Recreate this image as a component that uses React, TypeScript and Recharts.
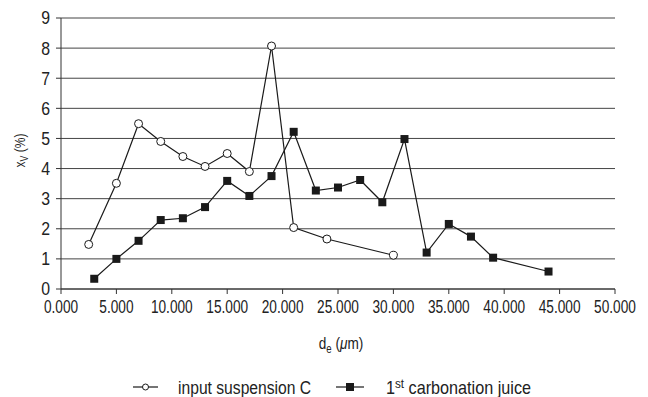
import { LineChart, Line, XAxis, YAxis, CartesianGrid, Legend } from 'recharts';

const suspensionX = [2.5, 5, 7, 9, 11, 13, 15, 17, 19, 21, 24, 30];
const suspensionY = [1.48, 3.51, 5.49, 4.9, 4.4, 4.07, 4.5, 3.9, 8.07, 2.04, 1.66, 1.12];

const juiceX = [3, 5, 7, 9, 11, 13, 15, 17, 19, 21, 23, 25, 27, 29, 31, 33, 35, 37, 39, 44];
const juiceY = [0.34, 1.0, 1.6, 2.29, 2.35, 2.72, 3.59, 3.09, 3.75, 5.22, 3.27, 3.37, 3.62, 2.88, 4.98, 1.21, 2.16, 1.74, 1.04, 0.58];

const xTicks = [0, 5, 10, 15, 20, 25, 30, 35, 40, 45, 50];
const yTicks = [0, 1, 2, 3, 4, 5, 6, 7, 8, 9];

const suspension = suspensionX.map((x, i) => ({ x, y: suspensionY[i] }));
const juice = juiceX.map((x, i) => ({ x, y: juiceY[i] }));

// no narrow font installed, so squeeze Liberation Sans horizontally
const FONT = '"Liberation Sans", Arial, sans-serif';
const INK = '#1a1a1a';
const TXT = '#222';

const CircleDot = (props: any) => {
  const { cx, cy, index } = props;
  return <circle key={`c-${index}`} cx={cx} cy={cy} r={4} fill="#fff" stroke={INK} strokeWidth={1} />;
};

const SquareDot = (props: any) => {
  const { cx, cy, index } = props;
  return <rect key={`s-${index}`} x={cx - 4} y={cy - 4} width={8} height={8} fill={INK} />;
};

const XTick = (props: any) => {
  const { x, y, payload } = props;
  return (
    <text transform={`translate(${x},${y}) scale(0.76,1)`} textAnchor="middle" dy="0.71em" fontFamily={FONT} fontSize={18} fill={TXT}>
      {payload.value.toFixed(3)}
    </text>
  );
};

const YTick = (props: any) => {
  const { x, y, payload } = props;
  return (
    <text transform={`translate(${x},${y}) scale(0.88,1)`} textAnchor="end" dy="0.355em" fontFamily={FONT} fontSize={18} fill={TXT}>
      {payload.value}
    </text>
  );
};

const XLabel = (props: any) => {
  const { viewBox } = props;
  const cx = viewBox.x + viewBox.width / 2 + 3;
  const y = viewBox.y + 60;
  return (
    <text transform={`translate(${cx},${y}) scale(0.8,1)`} textAnchor="middle" fontFamily={FONT} fontSize={17} fill={TXT}>
      d<tspan fontSize={12} dy={4}>e</tspan>
      <tspan dy={-4}> (</tspan>
      <tspan fontStyle="italic">μ</tspan>
      <tspan>m)</tspan>
    </text>
  );
};

const YLabel = (props: any) => {
  const { viewBox } = props;
  const cy = viewBox.y + viewBox.height / 2 - 3;
  const x = 25;
  return (
    <text transform={`translate(${x},${cy}) rotate(-90) scale(0.8,1)`} textAnchor="middle" fontFamily={FONT} fontSize={15} fill={TXT}>
      x<tspan fontSize={11} dy={3}>V</tspan>
      <tspan dy={-3}> (%)</tspan>
    </text>
  );
};

const LegendContent = () => (
  <svg width={648} height={30} style={{ display: 'block', overflow: 'visible' }}>
    <g fontFamily={FONT} fontSize={18} fill={TXT}>
      <line x1={133} y1={20} x2={158} y2={20} stroke={INK} strokeWidth={1.2} />
      <circle cx={145.5} cy={20} r={3} fill="#fff" stroke={INK} strokeWidth={1} />
      <text transform="translate(178,27) scale(0.87,1)">input suspension C</text>
      <line x1={336} y1={20} x2={364} y2={20} stroke={INK} strokeWidth={1.2} />
      <rect x={346} y={16} width={8} height={8} fill={INK} />
      <text transform="translate(386,27) scale(0.9,1)">
        1<tspan fontSize={13} dy={-6}>st</tspan>
        <tspan dy={6}> carbonation juice</tspan>
      </text>
    </g>
  </svg>
);

export default function App() {
  return (
    <div style={{ position: 'absolute', left: 0, top: 0, background: '#fff' }}>
      <LineChart width={648} height={397} margin={{ top: 18, right: 33, bottom: 0, left: 0 }}>
        <CartesianGrid vertical={false} stroke="#444" strokeWidth={1} />
        <XAxis
          type="number"
          dataKey="x"
          domain={[0, 50]}
          ticks={xTicks}
          height={78}
          tickSize={5}
          tickMargin={6}
          stroke="#333"
          tick={<XTick />}
          label={<XLabel />}
          interval={0}
        />
        <YAxis
          type="number"
          domain={[0, 9]}
          ticks={yTicks}
          width={61}
          tickSize={5}
          tickMargin={6}
          stroke="#333"
          tick={<YTick />}
          label={<YLabel />}
          interval={0}
        />
        <Legend verticalAlign="bottom" content={<LegendContent />} wrapperStyle={{ height: 30, left: 0, width: 648 }} />
        <Line
          data={suspension}
          dataKey="y"
          name="input suspension C"
          stroke={INK}
          strokeWidth={1.2}
          dot={<CircleDot />}
          activeDot={false}
          isAnimationActive={false}
        />
        <Line
          data={juice}
          dataKey="y"
          name="1st carbonation juice"
          stroke={INK}
          strokeWidth={1.2}
          dot={<SquareDot />}
          activeDot={false}
          isAnimationActive={false}
        />
      </LineChart>
    </div>
  );
}
